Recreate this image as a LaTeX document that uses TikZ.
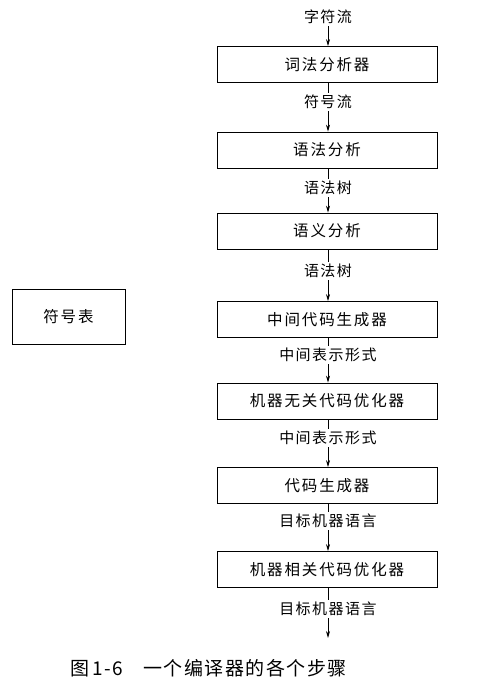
\documentclass[tikz,border=0pt]{standalone}
\usepackage{fontspec}
\newfontfamily\cjk{Noto Sans CJK SC}[LetterSpace=12]
\newfontfamily\cjklab{Noto Sans CJK SC}[LetterSpace=10]
\newfontfamily\cjkcap{Noto Sans CJK SC}[LetterSpace=8]
\usetikzlibrary{arrows.meta}
\begin{document}
\begin{tikzpicture}[x=1bp,y=-1bp,
  box/.style={draw,line width=0.8bp,minimum width=220bp,minimum height=36bp,inner sep=0pt,
    font=\cjk\fontsize{15.5bp}{17bp}\selectfont},
  lab/.style={inner sep=2bp,font=\cjklab\fontsize{15bp}{17bp}\selectfont},
  arr/.style={-{Stealth[length=7bp,width=4bp]},line width=0.7bp},
  ln/.style={line width=0.7bp}]
\useasboundingbox (0,0) rectangle (486,685);
% labels
\node[lab] (l0) at (328,17) {字符流};
\node[lab] (l1) at (328,102) {符号流};
\node[lab] (l2) at (328,188) {语法树};
\node[lab] (l3) at (328,271) {语法树};
\node[lab] (l4) at (328,355) {中间表示形式};
\node[lab] (l5) at (328,438) {中间表示形式};
\node[lab] (l6) at (328,521) {目标机器语言};
\node[lab] (l7) at (328,609) {目标机器语言};
\coordinate (end) at (328,638);
% boxes
\node[box] (b1) at (327,64.5) {词法分析器};
\node[box] (b2) at (327,150) {语法分析};
\node[box] (b3) at (327,231) {语义分析};
\node[box] (b4) at (327,319.5) {中间代码生成器};
\node[box] (b5) at (327,401) {机器无关代码优化器};
\node[box] (b6) at (327,485.5) {代码生成器};
\node[box] (b7) at (327,569.5) {机器相关代码优化器};
\node[box,minimum width=113bp,minimum height=55bp] (st) at (68.5,316.5) {符号表};
% connectors
\draw[arr] (l0) -- (l0 |- b1.north);
\draw[ln] (b1.south -| l1) -- (l1);
\draw[arr] (l1) -- (l1 |- b2.north);
\draw[ln] (b2.south -| l2) -- (l2);
\draw[arr] (l2) -- (l2 |- b3.north);
\draw[ln] (b3.south -| l3) -- (l3);
\draw[arr] (l3) -- (l3 |- b4.north);
\draw[ln] (b4.south -| l4) -- (l4);
\draw[arr] (l4) -- (l4 |- b5.north);
\draw[ln] (b5.south -| l5) -- (l5);
\draw[arr] (l5) -- (l5 |- b6.north);
\draw[ln] (b6.south -| l6) -- (l6);
\draw[arr] (l6) -- (l6 |- b7.north);
\draw[ln] (b7.south -| l7) -- (l7);
\draw[arr] (l7) -- (end);
% caption
\node[anchor=west,inner sep=0pt,font=\cjkcap\fontsize{19bp}{21bp}\selectfont] (cap) at (70,668) {图\,1-6\hspace{20bp}一个编译器的各个步骤};
\end{tikzpicture}
\end{document}
